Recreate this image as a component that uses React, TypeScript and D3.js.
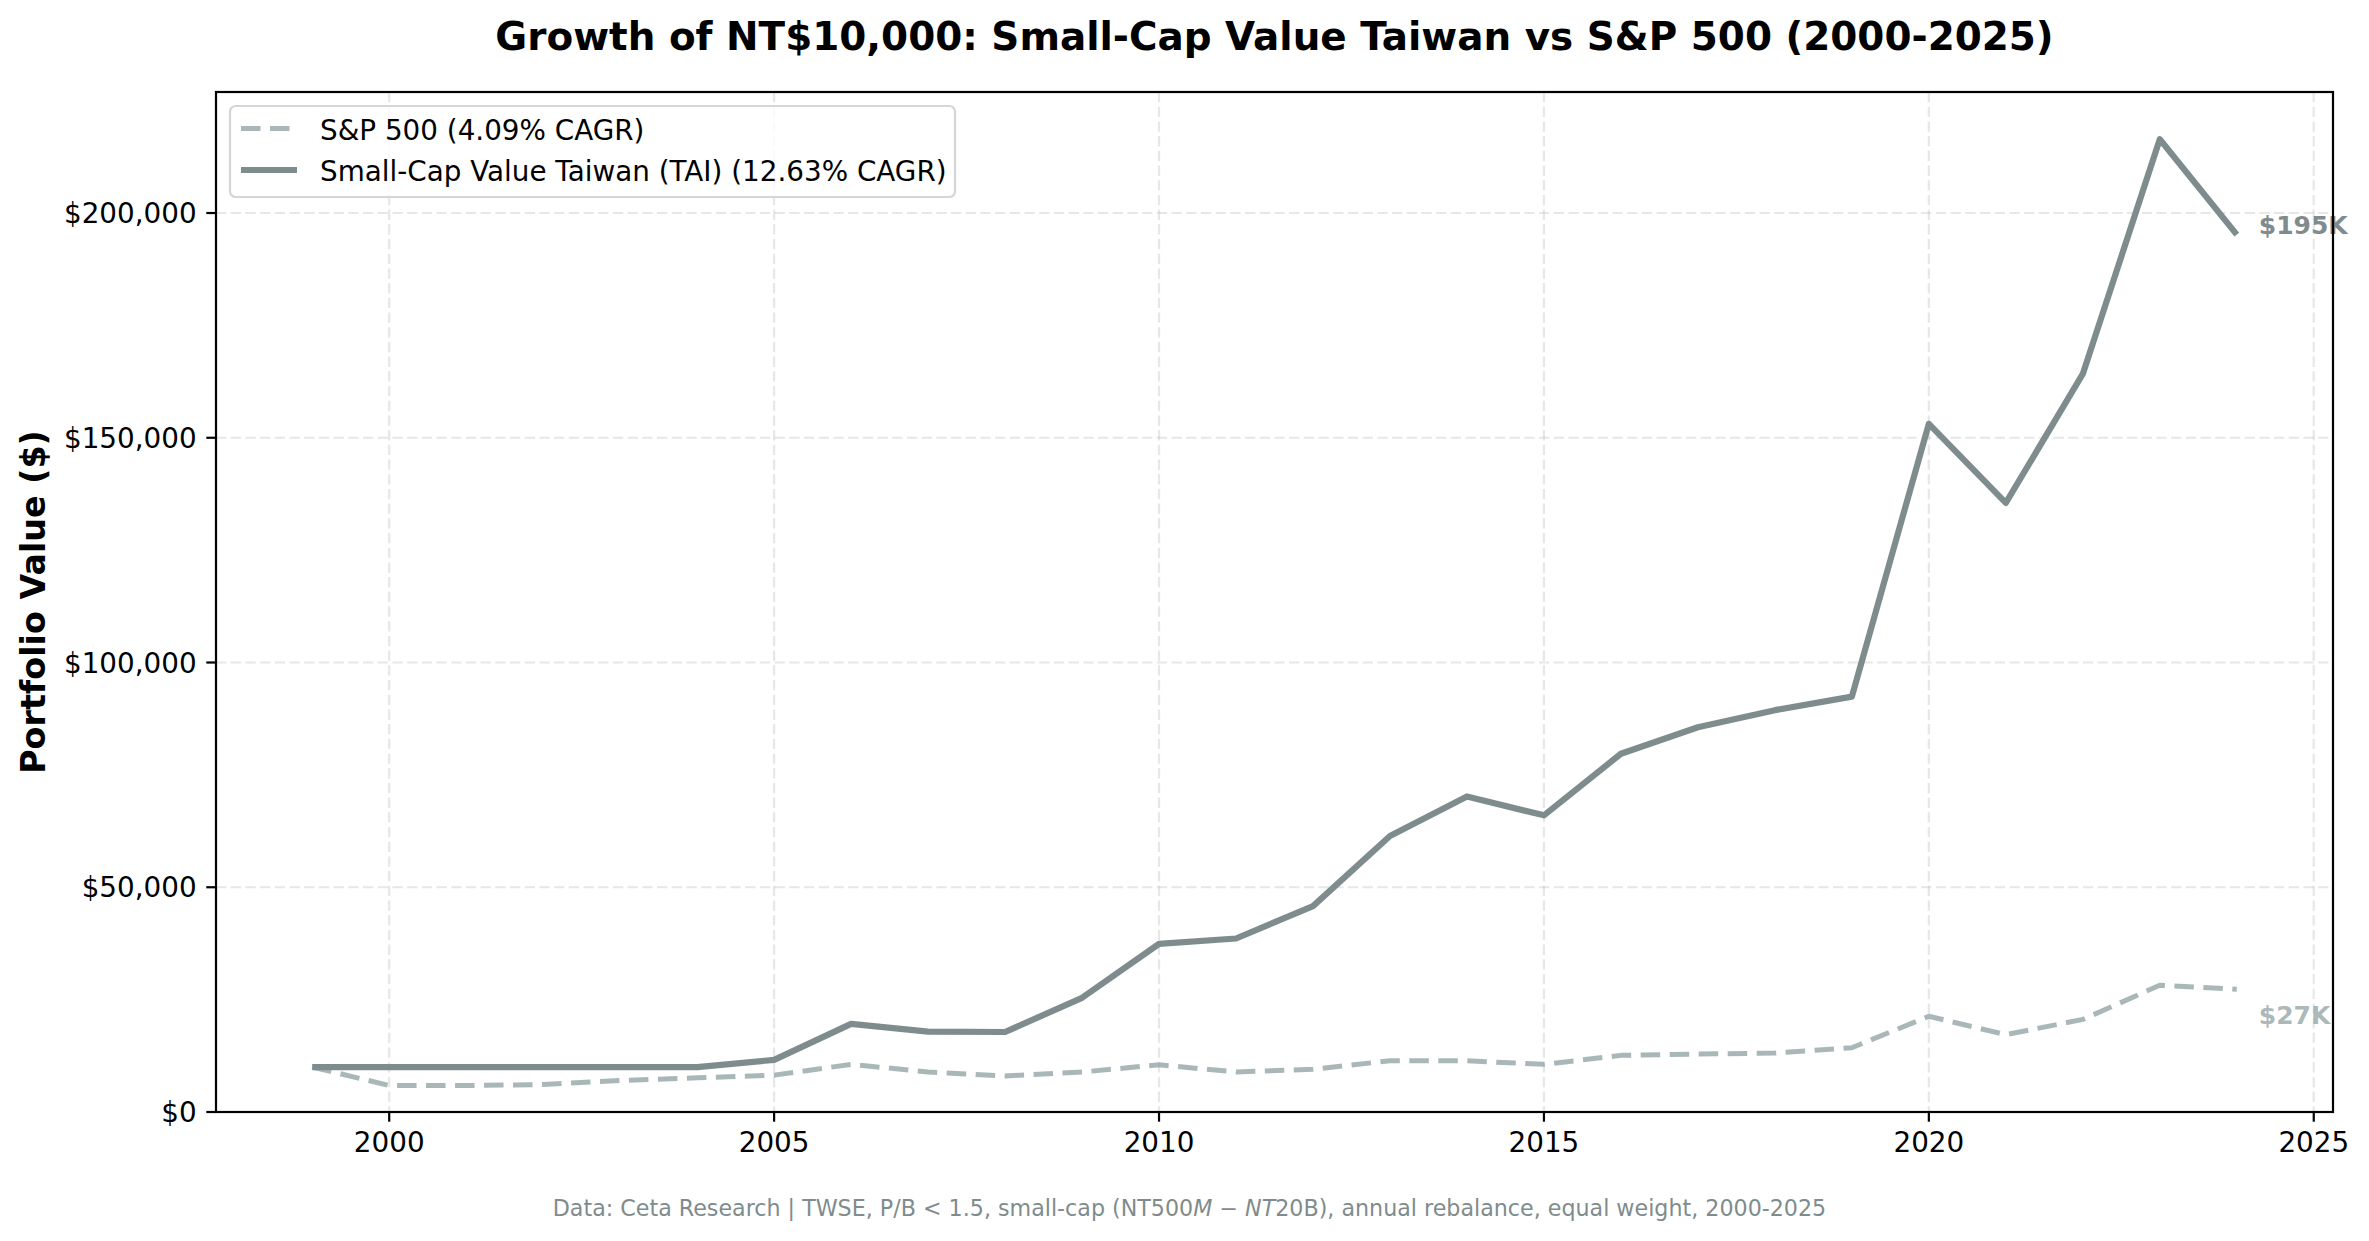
import React from 'react';
import { scaleLinear, line, format } from 'd3';

// values (NT$, year-end)
const years = [1999, 2000, 2001, 2002, 2003, 2004, 2005, 2006, 2007, 2008, 2009, 2010, 2011, 2012,
  2013, 2014, 2015, 2016, 2017, 2018, 2019, 2020, 2021, 2022, 2023, 2024];
const taiwanValues = [10000, 10000, 10000, 10000, 10000, 10000, 11600, 19600, 17900, 17800, 25400,
  37400, 38600, 45800, 61400, 70200, 66000, 79700, 85600, 89400, 92400, 153100, 135500, 164200,
  216400, 195200];
const sp500Values = [10000, 5900, 5900, 6100, 7000, 7600, 8200, 10600, 8900, 8000, 8900, 10500,
  8900, 9500, 11400, 11400, 10600, 12600, 12900, 13100, 14300, 21300, 17200, 20600, 28200, 27300];
const xTicks = [2000, 2005, 2010, 2015, 2020, 2025];
const yTicks = [0, 50000, 100000, 150000, 200000];
const seriesLabels = ['S&P 500 (4.09% CAGR)', 'Small-Cap Value Taiwan (TAI) (12.63% CAGR)'];
const endLabels = ['$27K', '$195K'];

const W = 2369, H = 1241;
const margin = { left: 216, right: 2333, top: 92, bottom: 1112 };
const FONT = '"DejaVu Sans", sans-serif';
const TAI_COLOR = '#7f8c8d';
const SP_COLOR = '#95a5a6';

export default function App() {
  const dataMin = Math.min(...sp500Values, ...taiwanValues);
  const dataMax = Math.max(...sp500Values, ...taiwanValues);
  const x = scaleLinear()
    .domain([years[0] - 0.05 * (years[years.length - 1] - years[0]), years[years.length - 1] + 0.05 * (years[years.length - 1] - years[0])])
    .range([margin.left, margin.right]);
  const y = scaleLinear()
    .domain([0, dataMax + 0.05 * (dataMax - dataMin)])
    .range([margin.bottom, margin.top]);

  const taiData = years.map((yr, i) => [yr, taiwanValues[i]] as [number, number]);
  const spData = years.map((yr, i) => [yr, sp500Values[i]] as [number, number]);
  const path = line<[number, number]>().x(d => x(d[0])).y(d => y(d[1]));
  const fmt = format(',');

  const lastYear = years[years.length - 1];
  const tickLen = 9.7;

  return (
    <svg width={W} height={H} style={{ position: 'absolute', left: 0, top: 0, background: '#fff' }}
      fontFamily={FONT}>
      <rect width={W} height={H} fill="#fff" />

      {/* grid */}
      <g stroke="#b0b0b0" strokeOpacity={0.3} strokeWidth={2.2} strokeDasharray="10.3,4.4">
        {xTicks.map(t => (
          <line key={'gx' + t} x1={x(t)} x2={x(t)} y1={margin.top} y2={margin.bottom} />
        ))}
        {yTicks.map(t => (
          <line key={'gy' + t} x1={margin.left} x2={margin.right} y1={y(t)} y2={y(t)} />
        ))}
      </g>

      {/* series */}
      <path d={path(spData) || ''} fill="none" stroke={SP_COLOR} strokeOpacity={0.8} strokeWidth={5}
        strokeDasharray="19.5,9.5" strokeLinejoin="round" />
      <path d={path(taiData) || ''} fill="none" stroke={TAI_COLOR} strokeWidth={6.2}
        strokeLinejoin="round" />

      {/* end labels */}
      <text x={x(lastYear) + 22} y={y(sp500Values[sp500Values.length - 1]) + 26} dy="0.35em"
        fontSize={25} fontWeight="bold" fill={SP_COLOR} fillOpacity={0.8}>{endLabels[0]}</text>
      <text x={x(lastYear) + 22} y={y(taiwanValues[taiwanValues.length - 1]) - 9} dy="0.35em"
        fontSize={25} fontWeight="bold" fill={TAI_COLOR}>{endLabels[1]}</text>

      {/* spines */}
      <rect x={margin.left} y={margin.top} width={margin.right - margin.left}
        height={margin.bottom - margin.top} fill="none" stroke="#000" strokeWidth={2.2} />

      {/* x axis */}
      {xTicks.map(t => (
        <g key={'xt' + t}>
          <line x1={x(t)} x2={x(t)} y1={margin.bottom} y2={margin.bottom + tickLen} stroke="#000" strokeWidth={2.2} />
          <text x={x(t)} y={margin.bottom + tickLen + 9.7 + 20.3} textAnchor="middle" fontSize={27.8}>{t}</text>
        </g>
      ))}

      {/* y axis */}
      {yTicks.map(t => (
        <g key={'yt' + t}>
          <line x1={margin.left - tickLen} x2={margin.left} y1={y(t)} y2={y(t)} stroke="#000" strokeWidth={2.2} />
          <text x={margin.left - tickLen - 9.7} y={y(t) + 10.1} textAnchor="end" fontSize={27.8}>{'$' + fmt(t)}</text>
        </g>
      ))}
      <text transform={`translate(45, ${(margin.top + margin.bottom) / 2}) rotate(-90)`} textAnchor="middle"
        fontSize={33.3} fontWeight="bold">Portfolio Value ($)</text>

      {/* title */}
      <text x={(margin.left + margin.right) / 2} y={50} textAnchor="middle" fontSize={38.9} fontWeight="bold">
        Growth of NT$10,000: Small-Cap Value Taiwan vs S&amp;P 500 (2000-2025)
      </text>

      {/* legend */}
      <g>
        <rect x={230} y={106} width={725} height={91} rx={5.6} fill="#fff" fillOpacity={0.8}
          stroke="#d6d6d6" strokeWidth={2.2} />
        <line x1={241} x2={297} y1={128.5} y2={128.5} stroke={SP_COLOR} strokeOpacity={0.8} strokeWidth={5}
          strokeDasharray="19.5,9.5" />
        <text x={320} y={139.5} fontSize={27.8}>{seriesLabels[0]}</text>
        <line x1={241} x2={297} y1={170} y2={170} stroke={TAI_COLOR} strokeWidth={6.2} />
        <text x={320} y={180.5} fontSize={27.8}>{seriesLabels[1]}</text>
      </g>

      {/* source note */}
      <text x={W / 2 + 5} y={1216} textAnchor="middle" fontSize={22.2} fill={TAI_COLOR}>
        Data: Ceta Research | TWSE, P/B &lt; 1.5, small-cap (NT500<tspan fontStyle="italic">M</tspan> − <tspan fontStyle="italic">NT</tspan>20B), annual rebalance, equal weight, 2000-2025
      </text>
    </svg>
  );
}
